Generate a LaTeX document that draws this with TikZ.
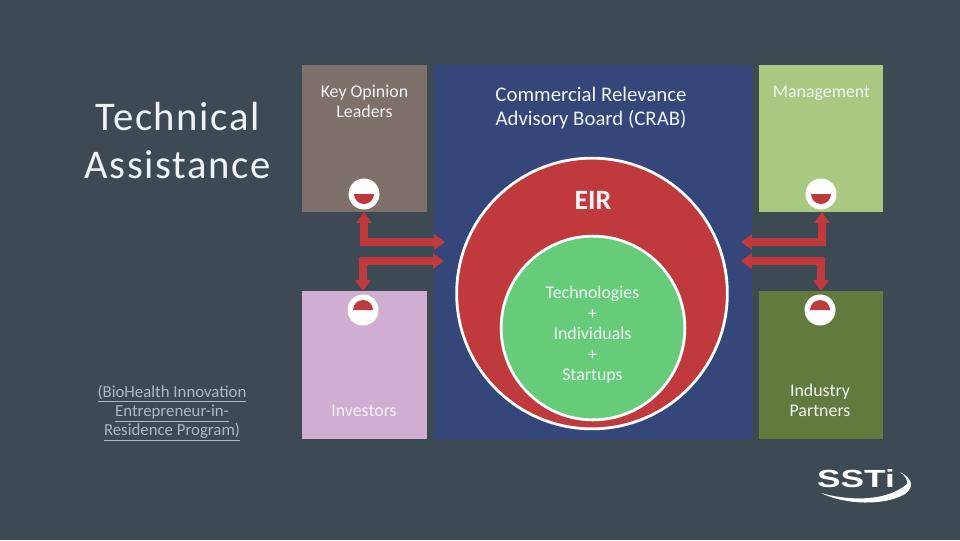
\documentclass[tikz,border=0pt]{standalone}
\usepackage{fontspec}
\usepackage{graphicx}
\usetikzlibrary{arrows.meta}
\setmainfont{Carlito}
\newfontfamily\titlefont[LetterSpace=4]{Carlito}
\newfontfamily\logofont{Liberation Sans}
\definecolor{bgc}{HTML}{3D4A54}
\definecolor{kolc}{HTML}{7E706A}
\definecolor{invc}{HTML}{D0AED2}
\definecolor{bluec}{HTML}{35477A}
\definecolor{mgmc}{HTML}{A9C880}
\definecolor{indc}{HTML}{637A3E}
\definecolor{redc}{HTML}{C0393D}
\definecolor{greenc}{HTML}{66CC7A}
\definecolor{txtc}{HTML}{F0F3F5}
\definecolor{subc}{HTML}{AEB9C2}
\tikzset{
  panel/.style={inner sep=0pt,outer sep=0pt,draw=none,rectangle},
  badge/.style={circle,fill=white,inner sep=0pt,outer sep=0pt,minimum size=23.25pt},
  disc/.style={circle,draw=white,inner sep=0pt,outer sep=0pt},
  boxtext/.style={text=txtc,align=center,inner sep=0pt,font=\fontsize{13.4pt}{15.3pt}\selectfont},
  biarrow/.style={draw=redc,line width=5.7pt,miter limit=10,{Triangle[length=8.2pt,width=11.4pt]}-{Triangle[length=8.2pt,width=11.4pt]}},
}
\begin{document}
\begin{tikzpicture}[x=0.75pt,y=-0.75pt]
\useasboundingbox (0,0) rectangle (960,540);
\fill[bgc] (0,0) rectangle (960,540);
% panels
\node[panel,fill=kolc,minimum width=93.75pt,minimum height=110.25pt] (kol) at (364.5,138.5) {};
\node[panel,fill=invc,minimum width=93.75pt,minimum height=111pt] (inv) at (364.5,365) {};
\node[panel,fill=bluec,minimum width=238.5pt,minimum height=280.5pt] (crab) at (593,252) {};
\node[panel,fill=mgmc,minimum width=93pt,minimum height=110.25pt] (mgm) at (821,138.5) {};
\node[panel,fill=indc,minimum width=93pt,minimum height=111pt] (ind) at (821,365) {};
% discs
\node[disc,fill=redc,line width=2.1pt,minimum size=203pt] (eir) at (592,293.5) {};
\node[disc,fill=greenc,line width=2.1pt,minimum size=137.8pt] (core) at (593,328) {};
% badges
\node[badge] (b1) at (364,194) {};
\node[badge] (b2) at (363,310) {};
\node[badge] (b3) at (821,194) {};
\node[badge] (b4) at (820,310) {};
\fill[redc] ([xshift=-7.5pt]b1.center) arc[start angle=180,end angle=360,radius=7.5pt] -- cycle;
\fill[redc] ([xshift=-7.5pt]b3.center) arc[start angle=180,end angle=360,radius=7.5pt] -- cycle;
\fill[redc] ([xshift=-7.5pt]b2.center) arc[start angle=180,end angle=0,radius=7.5pt] -- cycle;
\fill[redc] ([xshift=-7.5pt]b4.center) arc[start angle=180,end angle=0,radius=7.5pt] -- cycle;
% connectors
\coordinate (t1) at (364,212); \coordinate (h1) at (445,242);
\coordinate (t2) at (363,291); \coordinate (h2) at (444,261);
\coordinate (t3) at (822,212); \coordinate (h3) at (741,242);
\coordinate (t4) at (821,291); \coordinate (h4) at (741,261);
\draw[biarrow] (t1) |- (h1);
\draw[biarrow] (t2) |- (h2);
\draw[biarrow] (t3) |- (h3);
\draw[biarrow] (t4) |- (h4);
% texts
\node[boxtext] (tkol) at (364.5,101.5) {Key Opinion\\Leaders};
\node[boxtext] (tinv) at (364,410.5) {Investors};
\node[boxtext] (tmgm) at (821.5,93) {Management};
\node[boxtext] (tind) at (820,400.5) {Industry\\Partners};
\node[boxtext,font=\fontsize{15.6pt}{18pt}\selectfont] (tcrab) at (591,108) {Commercial Relevance\\Advisory Board (CRAB)};
\node[text=txtc,inner sep=0pt,font=\fontsize{21pt}{22pt}\selectfont\bfseries] (teir) at (593,200.5) {EIR};
\node[boxtext] (tcore) at (592.5,335) {Technologies\\+\\Individuals\\+\\Startups};
\node[text=txtc,align=center,inner sep=0pt,font=\fontsize{30.5pt}{36pt}\selectfont\titlefont] (title) at (177.5,141) {Technical\\Assistance};
\node[text=subc,align=center,inner sep=0pt,font=\fontsize{12.6pt}{14.4pt}\selectfont] (sub) at (172,413)
 {\underline{(BioHealth Innovation}\\\underline{Entrepreneur-in-}\\\underline{Residence Program)}};
% logo
\node[text=white,inner sep=0pt,font=\fontsize{18.6pt}{20pt}\selectfont\logofont\bfseries] (logo) at (856,479) {\scalebox{1.42}[1]{SSTi}};
\fill[white] (821,493) .. controls (845,500) and (885,503) .. (907,484) .. controls (908,480) and (905,476) .. (900,472)
  .. controls (912,478) and (915,487) .. (905,494) .. controls (885,506) and (845,505) .. (821,493) -- cycle;
\end{tikzpicture}
\end{document}
